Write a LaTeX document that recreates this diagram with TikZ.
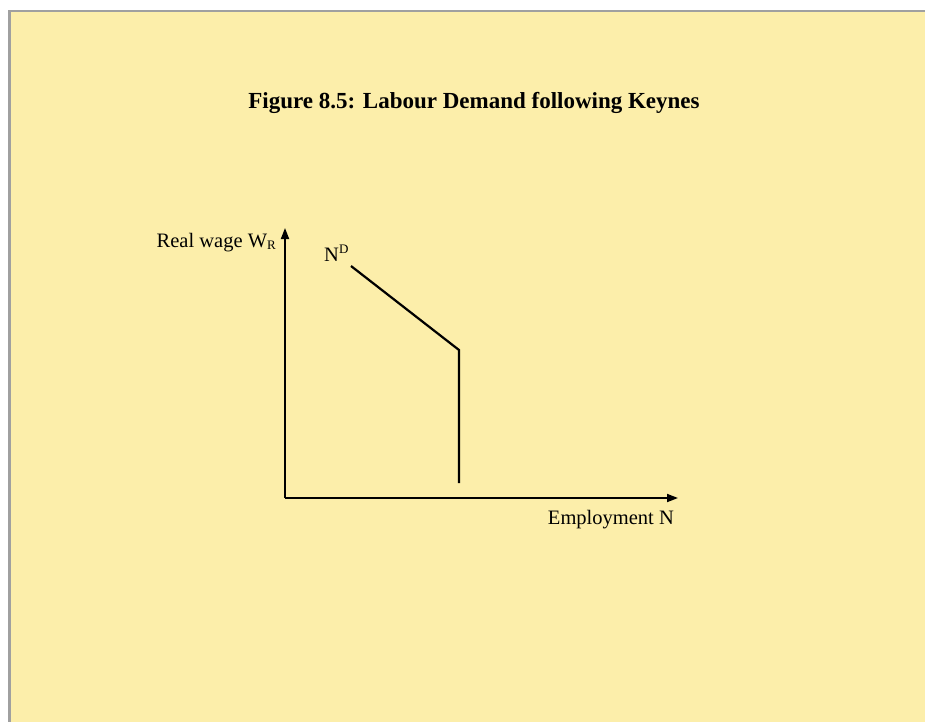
\documentclass[tikz,border=0pt]{standalone}
\usepackage{fontspec}
\setmainfont{Liberation Serif}
\usetikzlibrary{arrows.meta}
\definecolor{bgyellow}{RGB}{252,238,170}
\definecolor{framegray}{RGB}{160,160,160}
\tikzset{
  axis/.style={line width=1.8pt,-{Triangle[length=11pt,width=8pt]}},
  curve/.style={line width=2.2pt},
  lbl/.style={inner sep=0pt,font=\fontsize{20.5}{24}\selectfont},
  ttl/.style={inner sep=0pt,font=\fontsize{23}{27}\selectfont\bfseries},
}
\begin{document}
\begin{tikzpicture}[x=1pt,y=-1pt]
\useasboundingbox (0,0) rectangle (925,722);
\fill[white] (0,0) rectangle (925,722);
\fill[bgyellow] (11,12.5) rectangle (925,722);
\fill[framegray] (8,10) rectangle (11,722);
\fill[framegray] (8,10) rectangle (925,12.5);
\node[ttl,anchor=base] (title) at (474,109) {Figure 8.5: Labour Demand following Keynes};
\coordinate (O) at (285,498);
\coordinate (Ytop) at (285,228);
\coordinate (Xend) at (678,498);
\coordinate (A) at (351,266);
\coordinate (B) at (459,350);
\coordinate (C) at (459,483);
\draw[axis] (O) -- (Ytop);
\draw[axis] (O) -- (Xend);
\draw[curve] (A) -- (B) -- (C);
\node[lbl,anchor=base east] (ylab) at (276,247) {Real wage W\raisebox{-0.3ex}{\fontsize{13}{15}\selectfont R}};
\node[lbl,anchor=base west] (nd) at (324,261) {N\raisebox{0.75ex}{\fontsize{13}{15}\selectfont D}};
\node[lbl,anchor=base east] (xlab) at (674,524) {Employment N};
\end{tikzpicture}
\end{document}
